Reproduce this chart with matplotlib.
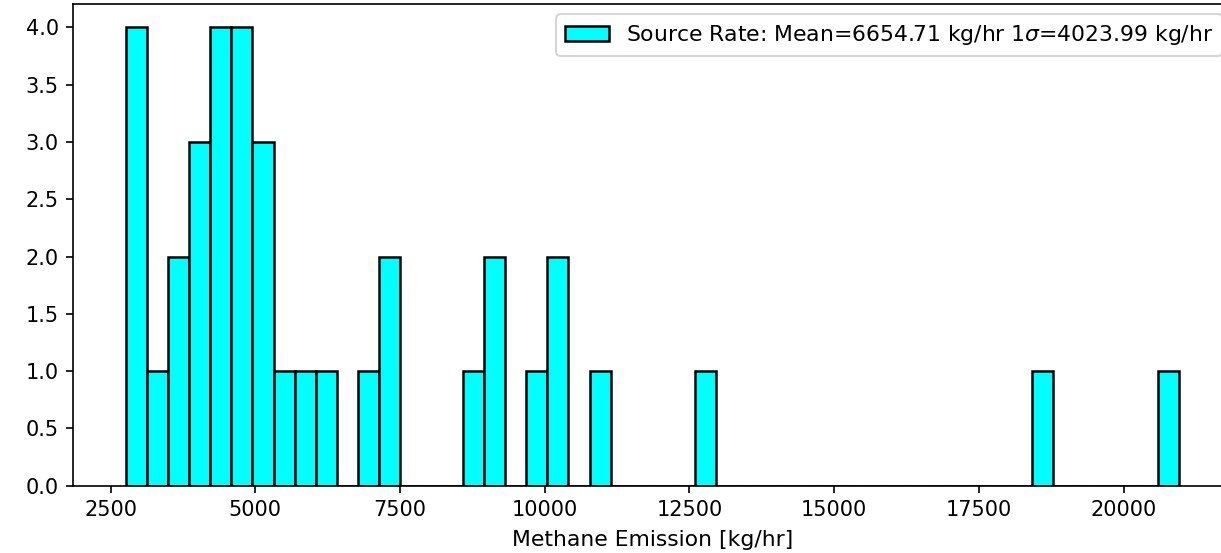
import numpy as np
import matplotlib
matplotlib.use("Agg")
import matplotlib.pyplot as plt

# Histogram data (50 equal-width bins)
bin_min = 2766.0
bin_max = 20964.0
n_bins = 50
counts = [4, 1, 2, 3, 4, 4, 3, 1, 1, 1,
          0, 1, 2, 0, 0, 0, 1, 2, 0, 1,
          2, 0, 1, 0, 0, 0, 0, 1, 0, 0,
          0, 0, 0, 0, 0, 0, 0, 0, 0, 0,
          0, 0, 0, 1, 0, 0, 0, 0, 0, 1]
mean_rate = 6654.71
sigma_rate = 4023.99
x_ticks = [2500, 5000, 7500, 10000, 12500, 15000, 17500, 20000]
y_ticks = [0.0, 0.5, 1.0, 1.5, 2.0, 2.5, 3.0, 3.5, 4.0]

edges = np.linspace(bin_min, bin_max, n_bins + 1)
centers = 0.5 * (edges[:-1] + edges[1:])

dpi = 150
fig = plt.figure(figsize=(1221 / dpi, 553 / dpi), dpi=dpi)
W, H = 1221.0, 553.0
left_px, right_px, top_px, bottom_px = 73.4, 1232.0, 4.4, 485.7
ax = fig.add_axes([left_px / W, (H - bottom_px) / H,
                   (right_px - left_px) / W, (bottom_px - top_px) / H])

label = ("Source Rate: Mean=%.2f kg/hr 1$\\sigma$=%.2f kg/hr"
         % (mean_rate, sigma_rate))
ax.hist(centers, bins=edges, weights=counts, facecolor="cyan",
        edgecolor="black", linewidth=1.2, label=label)

ax.set_xticks(x_ticks)
ax.set_yticks(y_ticks)
ax.tick_params(labelsize=10)
ax.spines["right"].set_visible(False)
ax.set_xlabel("Methane Emission [kg/hr]", fontsize=10.5, labelpad=4.5)
ax.legend(loc="upper right", fontsize=10.5, borderaxespad=0.45)

fig.savefig("out.png", dpi=dpi)
